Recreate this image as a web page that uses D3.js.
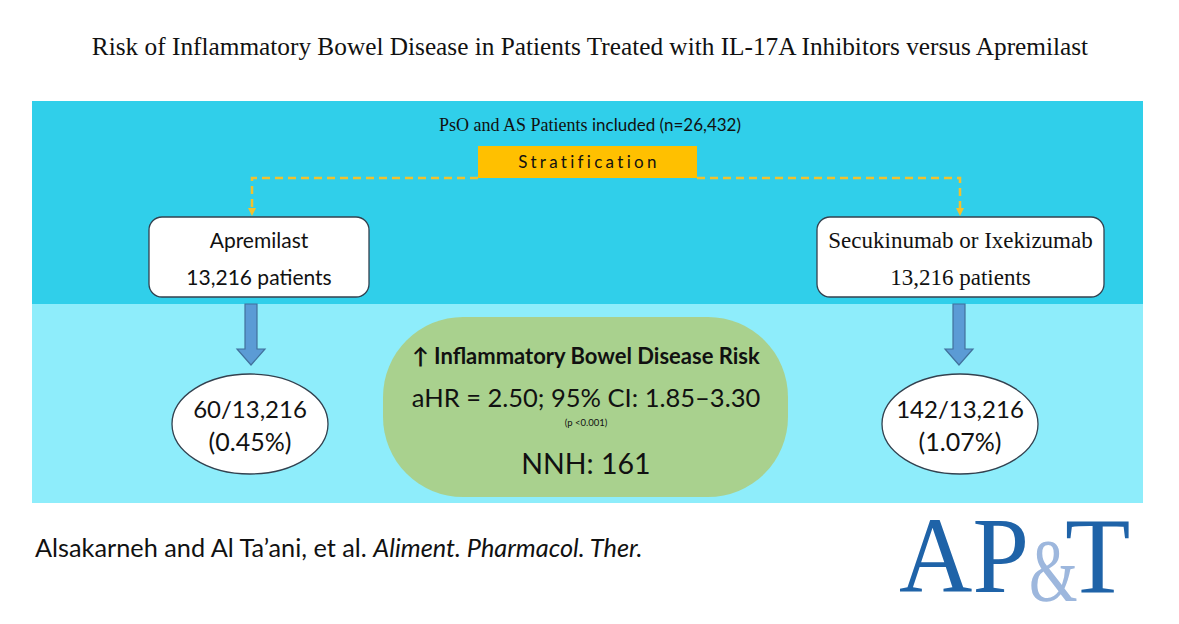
<!DOCTYPE html>
<html><head><meta charset="utf-8">
<script src="https://cdn.jsdelivr.net/npm/d3@7"></script>
<style>html,body{margin:0;padding:0;background:#fff;} svg{display:block;}</style>
</head><body>
<script>
// ---- data ----
const title = "Risk of Inflammatory Bowel Disease in Patients Treated with IL-17A Inhibitors versus Apremilast";
const totalPatients = ["26,432"];
const groups = ["Apremilast", "Secukinumab or Ixekizumab"];
const groupPatients = [13216, 13216];
const groupEvents = [60, 142];
const groupPercent = ["0.45%", "1.07%"];
const resultLines = ["↑ Inflammatory Bowel Disease Risk", "aHR = 2.50; 95% CI: 1.85–3.30", "(p <0.001)", "NNH: 161"];
const citation = ["Alsakarneh and Al Ta’ani, et al. ", "Aliment. Pharmacol. Ther."];
const logoParts = ["AP", "&", "T"];

const W = 1179, H = 624;
const svg = d3.select("body").append("svg").attr("width", W).attr("height", H);
const fmt = d3.format(",");
const sans = "Lato, 'Open Sans', sans-serif";
const serif = "'Liberation Serif', 'DejaVu Serif', serif";

const x = d3.scalePoint().domain(groups).range([252, 960]);

// title
svg.append("text").attr("x", 590).attr("y", 55).attr("text-anchor", "middle")
  .attr("font-family", serif).attr("font-size", 25.3).attr("fill", "#111").text(title);

// bands
svg.append("rect").attr("x", 32).attr("y", 101).attr("width", 1111).attr("height", 203).attr("fill", "#30CFEA");
svg.append("rect").attr("x", 32).attr("y", 304).attr("width", 1111).attr("height", 199).attr("fill", "#8EEDFB");

// header line
const hdr = svg.append("text").attr("x", 590).attr("y", 131).attr("text-anchor", "middle").attr("font-size", 17).attr("fill", "#111");
hdr.append("tspan").attr("font-family", serif).attr("font-size", 18).text("PsO and AS Patients ");
hdr.append("tspan").attr("font-family", sans).text(`included (n=${totalPatients[0]})`);

// stratification box
svg.append("rect").attr("x", 478).attr("y", 146).attr("width", 219).attr("height", 32).attr("fill", "#FFC000");
svg.append("text").attr("x", 589).attr("y", 168).attr("text-anchor", "middle")
  .attr("font-family", sans).attr("font-size", 17).attr("letter-spacing", 3.3).attr("fill", "#111").text("Stratification");

// dashed connectors
const dashCol = "#F2C12E";
svg.append("path")
  .attr("d", `M478,178 H${x(groups[0])} V210 M697,178 H${x(groups[1])} V210`)
  .attr("fill", "none").attr("stroke", dashCol).attr("stroke-width", 2.5).attr("stroke-dasharray", "8,5");
groups.forEach(g => {
  svg.append("path").attr("d", `M${x(g)-4},208 L${x(g)+4},208 L${x(g)},216 Z`).attr("fill", dashCol);
});

// group boxes
const boxes = [
  {x0: 149, x1: 369, font: sans, fs: 21},
  {x0: 817, x1: 1104, font: serif, fs: 23}
];
groups.forEach((g, i) => {
  const b = boxes[i];
  svg.append("rect").attr("x", b.x0).attr("y", 217).attr("width", b.x1 - b.x0).attr("height", 80)
    .attr("rx", 13).attr("fill", "#fff").attr("stroke", "#33414f").attr("stroke-width", 1.3);
  const cx = (b.x0 + b.x1) / 2;
  svg.append("text").attr("x", cx).attr("y", 248).attr("text-anchor", "middle")
    .attr("font-family", b.font).attr("font-size", b.fs).attr("fill", "#111").text(g);
  svg.append("text").attr("x", cx).attr("y", 285).attr("text-anchor", "middle")
    .attr("font-family", b.font).attr("font-size", b.fs).attr("fill", "#111").text(`${fmt(groupPatients[i])} patients`);
});

// blue arrows
groups.forEach(g => {
  const cx = x(g) - 1;
  svg.append("path")
    .attr("d", `M${cx-6},304 H${cx+6} V349 H${cx+14} L${cx},365 L${cx-14},349 H${cx-6} Z`)
    .attr("fill", "#5B9BD5").attr("stroke", "#41719C").attr("stroke-width", 1.2);
});

// ellipses
groups.forEach((g, i) => {
  const cx = x(g) - (i === 0 ? 2 : 0), cy = 424;
  svg.append("ellipse").attr("cx", cx).attr("cy", cy).attr("rx", 78).attr("ry", 50)
    .attr("fill", "#fff").attr("stroke", "#33414f").attr("stroke-width", 1.3);
  svg.append("text").attr("x", cx).attr("y", 418).attr("text-anchor", "middle")
    .attr("font-family", sans).attr("font-size", 24).attr("fill", "#111")
    .text(`${groupEvents[i]}/${fmt(groupPatients[i])}`);
  svg.append("text").attr("x", cx).attr("y", 451).attr("text-anchor", "middle")
    .attr("font-family", sans).attr("font-size", 25).attr("fill", "#111").text(`(${groupPercent[i]})`);
});

// result pill
svg.append("rect").attr("x", 383).attr("y", 317).attr("width", 405).attr("height", 180)
  .attr("rx", 80).attr("ry", 80).attr("fill", "#A9D18E");
const rx0 = 586;
svg.append("text").attr("x", rx0).attr("y", 364).attr("text-anchor", "middle")
  .attr("font-family", sans).attr("font-weight", "bold").attr("font-size", 22).attr("fill", "#111").text(resultLines[0]);
svg.append("text").attr("x", rx0).attr("y", 407).attr("text-anchor", "middle")
  .attr("font-family", sans).attr("font-size", 25.5).attr("fill", "#111").text(resultLines[1]);
svg.append("text").attr("x", rx0).attr("y", 426).attr("text-anchor", "middle")
  .attr("font-family", sans).attr("font-size", 9.5).attr("fill", "#111").text(resultLines[2]);
svg.append("text").attr("x", rx0).attr("y", 474).attr("text-anchor", "middle")
  .attr("font-family", sans).attr("font-size", 28.5).attr("fill", "#111").text(resultLines[3]);

// citation
const cit = svg.append("text").attr("x", 35).attr("y", 557).attr("font-family", sans).attr("font-size", 25.3).attr("fill", "#111");
cit.append("tspan").text(citation[0]);
cit.append("tspan").attr("font-style", "italic").text(citation[1]);

// AP&T logo
const logoBlue = "#1F63A8", logoLight = "#9DB7DD";
svg.append("text").attr("transform", "translate(899,592) scale(0.95,1)")
  .attr("font-family", serif).attr("font-size", 107).attr("fill", logoBlue).text(logoParts[0]);
svg.append("text").attr("transform", "translate(1029,600) scale(0.78,1.12)")
  .attr("font-family", serif).attr("font-size", 80).attr("fill", logoLight).text(logoParts[1]);
svg.append("text").attr("x", 1065).attr("y", 592)
  .attr("font-family", serif).attr("font-size", 107).attr("fill", logoBlue).text(logoParts[2]);
</script>
</body></html>
